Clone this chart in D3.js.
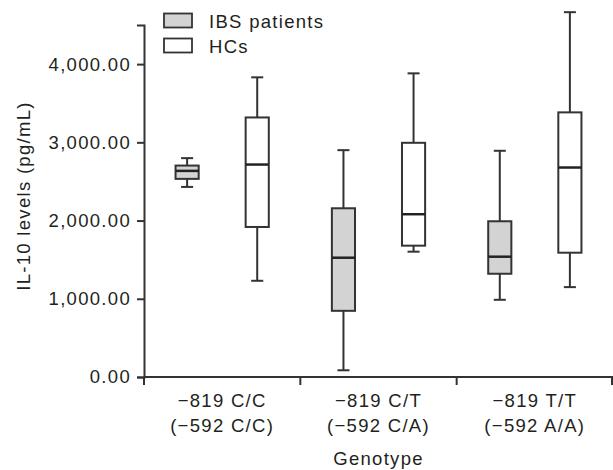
<!DOCTYPE html>
<html>
<head>
<meta charset="utf-8">
<script src="https://cdn.jsdelivr.net/npm/d3@7"></script>
<style>
  body { margin: 0; background: #fff; }
  text { font-family: "Liberation Sans", Arial, sans-serif; fill: #231f20; letter-spacing: 1.3px; }
</style>
</head>
<body>
<svg id="chart"></svg>
<script>
// Genotype groups and their two-line labels
const genotypes = ["CC", "CT", "TT"];
const genotypeLine1 = ["\u2212819 C/C", "\u2212819 C/T", "\u2212819 T/T"];
const genotypeLine2 = ["(\u2212592 C/C)", "(\u2212592 C/A)", "(\u2212592 A/A)"];
const seriesNames = ["IBS patients", "HCs"];

// Box stats per genotype (pg/mL): min, q1, median, q3, max
const ibsMin    = [2430,   86,  987];
const ibsQ1     = [2533,  846, 1320];
const ibsMedian = [2635, 1525, 1538];
const ibsQ3     = [2703, 2157, 1991];
const ibsMax    = [2798, 2900, 2892];

const hcMin    = [1230, 1602, 1149];
const hcQ1     = [1918, 1679, 1589];
const hcMedian = [2716, 2081, 2678];
const hcQ3     = [3318, 2994, 3383];
const hcMax    = [3831, 3882, 4664];

const yTicks = [0, 1000, 2000, 3000, 4000];

const W = 613, H = 470;
const MARGIN = { top: 25, right: 0, bottom: 93, left: 144 };
const INK = "#333";
const FONT = "18.5px";
const FILLS = { "IBS patients": "#d3d3d3", "HCs": "#ffffff" };

const svg = d3.select("#chart").attr("width", W).attr("height", H);

const x = d3.scaleBand()
  .domain(genotypes)
  .range([MARGIN.left, W - MARGIN.right])
  .padding(0);

const xInner = d3.scaleBand()
  .domain(seriesNames)
  .range([0, x.bandwidth()])
  .paddingInner(0.67)
  .paddingOuter(0.45);

const y = d3.scaleLinear()
  .domain([0, 4500])
  .range([H - MARGIN.bottom, MARGIN.top]);

//Builds box records from the arrays
const boxes = [];
genotypes.forEach((g, i) => {
  boxes.push({ g, s: "IBS patients", min: ibsMin[i], q1: ibsQ1[i], med: ibsMedian[i], q3: ibsQ3[i], max: ibsMax[i] });
  boxes.push({ g, s: "HCs", min: hcMin[i], q1: hcQ1[i], med: hcMedian[i], q3: hcQ3[i], max: hcMax[i] });
});

//Y axis
const yAxis = svg.append("g")
  .attr("transform", `translate(${MARGIN.left},0)`)
  .call(d3.axisLeft(y).tickValues(yTicks).tickSize(7).tickPadding(6)
    .tickFormat(d => d3.format(",.2f")(d)));
yAxis.select(".domain").attr("stroke", INK).attr("stroke-width", 2);
yAxis.selectAll(".tick line").attr("stroke", INK).attr("stroke-width", 2);
yAxis.selectAll(".tick text")
  .style("font-size", FONT)
  .style("font-family", null)
  .attr("fill", "#231f20");
yAxis.attr("font-family", null).attr("font-size", null);

svg.append("text")
  .attr("transform", `translate(29.5,196) rotate(-90)`)
  .attr("text-anchor", "middle")
  .style("font-size", FONT)
  .text("IL-10 levels (pg/mL)");

//X axis: line and boundary ticks
const x0 = y(0);
svg.append("line")
  .attr("x1", x.range()[0]).attr("x2", x.range()[1])
  .attr("y1", x0).attr("y2", x0)
  .attr("stroke", INK).attr("stroke-width", 2);

const bounds = genotypes.map(g => x(g)).concat([x.range()[1] - 1]);
svg.selectAll(".xtick").data(bounds).join("line")
  .attr("class", "xtick")
  .attr("x1", d => d).attr("x2", d => d)
  .attr("y1", x0).attr("y2", x0 + 8)
  .attr("stroke", INK).attr("stroke-width", 2);

const xlab = svg.selectAll(".xlab").data(genotypes).join("text")
  .attr("class", "xlab")
  .attr("text-anchor", "middle")
  .style("font-size", FONT);
xlab.append("tspan")
  .attr("x", d => x(d) + x.bandwidth() / 2)
  .attr("y", x0 + 30)
  .text((d, i) => genotypeLine1[i]);
xlab.append("tspan")
  .attr("x", d => x(d) + x.bandwidth() / 2)
  .attr("y", x0 + 55)
  .text((d, i) => genotypeLine2[i]);

svg.append("text")
  .attr("x", (x.range()[0] + x.range()[1]) / 2)
  .attr("y", H - 5)
  .attr("text-anchor", "middle")
  .style("font-size", FONT)
  .text("Genotype");

//Boxes
const bw = xInner.bandwidth();
const capW = bw * 0.52;
const bg = svg.selectAll(".box").data(boxes).join("g")
  .attr("class", "box")
  .attr("transform", d => `translate(${x(d.g) + xInner(d.s)},0)`);

bg.append("line")
  .attr("x1", bw / 2).attr("x2", bw / 2)
  .attr("y1", d => y(d.max)).attr("y2", d => y(d.min))
  .attr("stroke", INK).attr("stroke-width", 2);
bg.append("line")
  .attr("x1", bw / 2 - capW / 2).attr("x2", bw / 2 + capW / 2)
  .attr("y1", d => y(d.max)).attr("y2", d => y(d.max))
  .attr("stroke", INK).attr("stroke-width", 2);
bg.append("line")
  .attr("x1", bw / 2 - capW / 2).attr("x2", bw / 2 + capW / 2)
  .attr("y1", d => y(d.min)).attr("y2", d => y(d.min))
  .attr("stroke", INK).attr("stroke-width", 2);
bg.append("rect")
  .attr("x", 0).attr("width", bw)
  .attr("y", d => y(d.q3)).attr("height", d => y(d.q1) - y(d.q3))
  .attr("fill", d => FILLS[d.s])
  .attr("stroke", INK).attr("stroke-width", 2);
bg.append("line")
  .attr("x1", 0).attr("x2", bw)
  .attr("y1", d => y(d.med)).attr("y2", d => y(d.med))
  .attr("stroke", "#222").attr("stroke-width", 2.5);

//Legend
const lg = svg.selectAll(".leg").data(seriesNames).join("g")
  .attr("class", "leg")
  .attr("transform", (d, i) => `translate(164,${13.5 + i * 25})`);
lg.append("rect")
  .attr("width", 28).attr("height", 14)
  .attr("fill", d => FILLS[d])
  .attr("stroke", INK).attr("stroke-width", 1.8);
lg.append("text")
  .attr("x", 45).attr("y", 14.2)
  .style("font-size", FONT)
  .text(d => d);
</script>
</body>
</html>
